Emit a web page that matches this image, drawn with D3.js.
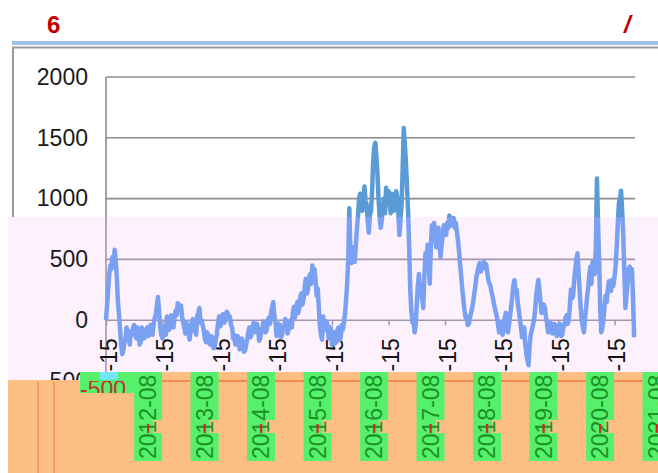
<!DOCTYPE html>
<html><head><meta charset="utf-8">
<script src="https://cdn.jsdelivr.net/npm/d3@7/dist/d3.min.js"></script>
<style>body{margin:0;background:#fff}svg{display:block}</style>
</head><body>
<svg id="c" width="658" height="473"></svg>
<script>
// ---- data ----
const yTicks = [-500, 0, 500, 1000, 1500, 2000];
const tickYears = [2011, 2012, 2013, 2014, 2015, 2016, 2017, 2018, 2019, 2020];
const overlayLabels = ["2012-08", "2013-08", "2014-08", "2015-08", "2016-08", "2017-08", "2018-08", "2019-08", "2020-08", "2021-08"];
const titleLeft = "6";
const titleRight = "/";
// weekly values, one array per year starting mid-August
const v2011 = [0,120,250,380,450,420,520,470,580,480,350,150,50,-80,-200,-280,-250,-180,-150,-60,-100,-160,-200,-90,-120,-60,-40,-120,-150,-60,-100,-200,-180,-60,-80,-150,-140,-90,-60,-130,-120,-40,-80,-120,-30,20,50,120,190,80,-50,-120];
const v2012 = [-150,-90,-50,-120,30,-40,-80,20,40,-30,-60,20,80,40,140,90,100,120,30,-20,-60,-110,-20,-80,-120,-160,-60,-10,10,-90,-50,-120,40,60,100,-20,0,-40,-80,-150,-180,-100,-120,-190,-200,-130,-150,-230,-220,-170,-120,-40];
const v2013 = [30,-50,-30,40,50,-20,0,70,60,10,30,-40,-60,-150,-120,-200,-200,-130,-150,-240,-220,-150,-180,-260,-250,-200,-160,-100,-60,-140,-120,-50,-20,-90,-100,-30,-60,-170,-150,-90,-80,-10,-30,-100,-80,0,20,-30,60,100,150,40];
const v2014 = [-20,-130,-100,-30,-40,-140,-120,-50,-60,10,-20,-110,-80,-10,0,-60,60,110,20,80,150,60,100,200,220,130,180,280,340,220,250,350,380,300,450,380,420,330,200,260,100,-50,-120,-160,30,-60,-80,-10,-40,-150,-120,-60];
const v2015 = [-200,-130,-100,-190,-180,-80,-60,-160,-150,-40,-80,-20,50,160,300,500,920,560,470,600,560,480,620,750,850,1000,1040,930,900,1000,1100,980,950,820,720,860,900,1050,1300,1420,1460,1350,1200,1000,850,760,820,950,1000,880,1090,970];
const v2016 = [1060,960,880,1040,1000,900,930,1060,1010,880,700,820,950,1250,1580,1450,1300,1100,900,600,250,80,-20,40,-100,-40,120,280,380,200,300,180,100,350,550,420,620,480,300,600,780,700,800,680,600,720,760,640,520,620,700,780];
const v2017 = [740,700,800,760,860,820,780,830,840,760,800,720,650,560,450,350,250,160,80,20,30,-40,-30,20,60,100,150,220,280,360,400,440,470,400,420,470,480,430,460,390,330,300,280,230,190,140,100,60,25,-40,-100,-60];
const v2018 = [-20,-120,-80,20,60,-60,-100,-30,40,120,200,290,330,240,250,140,80,10,-60,-140,-120,-60,-200,-280,-330,-370,-200,-120,-80,-40,0,80,200,270,330,250,150,60,80,130,105,30,-20,-100,-80,-20,-30,-110,-80,-30,-50,-130];
const v2019 = [-100,-40,-30,-130,-120,-60,-40,20,40,-30,0,120,250,180,200,330,420,500,550,400,250,100,0,-60,-100,20,100,200,270,380,440,300,480,420,380,600,1165,800,500,100,-100,-60,0,120,200,150,250,320,300,240,330,280];
const v2020 = [360,450,600,800,960,1000,1065,900,700,400,100,200,300,420,440,380,420,200,-140];
const yearArrays = [v2011, v2012, v2013, v2014, v2015, v2016, v2017, v2018, v2019, v2020];

// ---- build series ----
const series = [];
yearArrays.forEach((arr, k) => {
  const start = new Date(tickYears[k], 7, 15);
  arr.forEach((v, i) => series.push({date: d3.timeDay.offset(start, i * 7), value: v}));
});

const svg = d3.select("#c");
const x = d3.scaleTime().domain([new Date(2011, 7, 15), new Date(2020, 11, 25)]).range([106, 635]);
const y = d3.scaleLinear().domain([-500, 2000]).range([381, 77]);
const pinkTop = 217, orangeTop = 380;
const FONT = "Liberation Sans, Arial, sans-serif";

const defs = svg.append("defs");
defs.append("clipPath").attr("id", "above").append("rect").attr("x", 0).attr("y", 0).attr("width", 658).attr("height", pinkTop);
defs.append("clipPath").attr("id", "below").append("rect").attr("x", 0).attr("y", pinkTop).attr("width", 658).attr("height", 473 - pinkTop);

svg.append("rect").attr("width", 658).attr("height", 473).attr("fill", "#fff");

// header
svg.append("text").attr("x", 47).attr("y", 33).text(titleLeft)
  .attr("font-family", FONT).attr("font-weight", "bold").attr("font-size", 24).attr("fill", "#c00000");
svg.append("text").attr("x", 624).attr("y", 33).text(titleRight)
  .attr("font-family", FONT).attr("font-weight", "bold").attr("font-style", "italic").attr("font-size", 24).attr("fill", "#c00000");
svg.append("rect").attr("x", 12).attr("y", 41).attr("width", 646).attr("height", 4).attr("fill", "#9dc3e6");
svg.append("rect").attr("x", 13).attr("y", 47.5).attr("width", 700).attr("height", 500).attr("fill", "none").attr("stroke", "#9a9a9a").attr("stroke-width", 2);

// pink band
svg.append("rect").attr("x", 8).attr("y", pinkTop).attr("width", 650).attr("height", orangeTop - pinkTop).attr("fill", "#fdf1fd");

// gridlines
svg.append("g").selectAll("line").data(yTicks.filter(d => d >= 0)).join("line")
  .attr("x1", 106).attr("x2", 635).attr("y1", d => y(d)).attr("y2", d => y(d))
  .attr("stroke", d => y(d) < pinkTop ? "#8c8c8c" : "#a595ad").attr("stroke-width", 1.6);
svg.append("line").attr("x1", 106).attr("x2", 106).attr("y1", y(2000)).attr("y2", pinkTop).attr("stroke", "#8c8c8c").attr("stroke-width", 1.6);
svg.append("line").attr("x1", 106).attr("x2", 106).attr("y1", pinkTop).attr("y2", orangeTop).attr("stroke", "#a595ad").attr("stroke-width", 1.6);

// y axis
const yAxis = svg.append("g").attr("transform", "translate(106,0)")
  .call(d3.axisLeft(y).tickValues(yTicks).tickSize(0).tickPadding(18).tickFormat(d3.format("d")));
yAxis.select(".domain").remove();
yAxis.selectAll("text").attr("font-family", FONT).attr("font-size", 23).attr("fill", "#1a1a1a");

// x axis
const xAxis = svg.append("g").attr("transform", `translate(0,${y(0)})`)
  .call(d3.axisBottom(x).tickValues(tickYears.map(yr => new Date(yr, 7, 15))).tickSize(5).tickFormat(d3.timeFormat("%Y-%m-%d")));
xAxis.select(".domain").remove();
xAxis.selectAll("line").attr("stroke", "#a595ad").attr("stroke-width", 1.5);
xAxis.selectAll("text").attr("transform", "rotate(-90)").attr("text-anchor", "end")
  .attr("x", -18).attr("y", 2).attr("dy", "0.35em")
  .attr("font-family", FONT).attr("font-size", 23).attr("fill", "#111");

// line
const line = d3.line().x(d => x(d.date)).y(d => y(d.value));
svg.append("path").datum(series).attr("d", line).attr("clip-path", "url(#above)")
  .attr("fill", "none").attr("stroke", "#5b9bd5").attr("stroke-width", 4.5).attr("stroke-linejoin", "round");
svg.append("path").datum(series).attr("d", line).attr("clip-path", "url(#below)")
  .attr("fill", "none").attr("stroke", "#7aa0f2").attr("stroke-width", 4.5).attr("stroke-linejoin", "round");

// orange overlay
svg.append("rect").attr("x", 8).attr("y", orangeTop).attr("width", 650).attr("height", 473 - orangeTop).attr("fill", "#fdbe84");
svg.append("rect").attr("x", 160).attr("y", 372).attr("width", 498).attr("height", orangeTop - 372 + 1).attr("fill", "#fdbe84");
svg.append("line").attr("x1", 160).attr("x2", 658).attr("y1", y(-500)).attr("y2", y(-500)).attr("stroke", "#f27a3c").attr("stroke-width", 1.5);
[38, 54].forEach(px => svg.append("line").attr("x1", px).attr("x2", px).attr("y1", orangeTop + 2).attr("y2", 473).attr("stroke", "#f5884a").attr("stroke-width", 1.2));

// -500 glitch box
svg.append("rect").attr("x", 80).attr("y", 372).attr("width", 80).attr("height", 21).attr("fill", "#56f06c");
svg.append("rect").attr("x", 100).attr("y", 372).attr("width", 18).attr("height", 8).attr("fill", "#6fe8f5");
svg.append("rect").attr("x", 143).attr("y", 374).attr("width", 8).attr("height", 4).attr("fill", "#6fe8f5");
defs.append("clipPath").attr("id", "glitch").append("rect").attr("x", 80).attr("y", 381).attr("width", 80).attr("height", 12);
svg.append("text").attr("x", 80).attr("y", 397).text("-500").attr("clip-path", "url(#glitch)")
  .attr("font-family", FONT).attr("font-size", 23).attr("fill", "#c03030");

// green label boxes
const lg = svg.append("g");
overlayLabels.forEach((lab, k) => {
  const cx = x(new Date(tickYears[0] + k + 1, 7, 15)) - 14.5;
  lg.append("rect").attr("x", cx - 14).attr("y", 372).attr("width", 28).attr("height", 89).attr("fill", "#56f06c");
  lg.append("rect").attr("x", cx + 5).attr("y", 420).attr("width", 10).attr("height", 13).attr("fill", "#fdbe84");
  lg.append("text").attr("transform", `translate(${cx},459) rotate(-90)`).attr("dy", "0.35em").text(lab)
    .attr("font-family", FONT).attr("font-size", 23).attr("fill", "#1a9426");
  lg.append("rect").attr("x", cx - 1).attr("y", 424).attr("width", 2.2).attr("height", 9).attr("fill", "#e02020");
});
</script>
</body></html>
